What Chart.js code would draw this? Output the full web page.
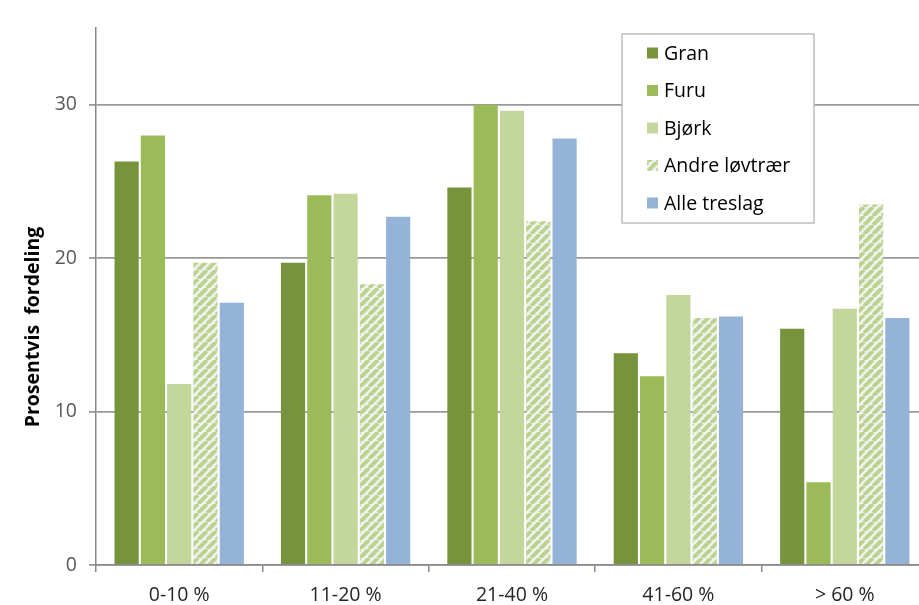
<!DOCTYPE html>
<html>
<head>
<meta charset="utf-8">
<script src="https://cdn.jsdelivr.net/npm/chart.js@4/dist/chart.umd.min.js"></script>
<style>
  html, body { margin: 0; padding: 0; background: #fff; overflow: hidden; }
  #wrap { width: 932px; height: 605px; }
</style>
</head>
<body>
<div id="wrap"><canvas id="c" width="932" height="605"></canvas></div>
<script>
// Share of volume by class, per tree species
const categories = ['0-10 %', '11-20 %', '21-40 %', '41-60 %', '> 60 %'];
const gran   = [26.3, 19.7, 24.6, 13.8, 15.4];
const furu   = [28.0, 24.1, 30.0, 12.3, 5.4];
const bjork  = [11.8, 24.2, 29.6, 17.6, 16.7];
const andre  = [19.7, 18.3, 22.4, 16.1, 23.5];
const alle   = [17.1, 22.7, 27.8, 16.2, 16.1];
const seriesNames = ['Gran', 'Furu', 'Bjørk', 'Andre løvtrær', 'Alle treslag'];
const yTicks = [0, 10, 20, 30];
const yTitle = 'Prosentvis  fordeling';

const FONT = '"Open Sans", "Noto Sans", sans-serif';

// diagonal hatch for "Andre løvtrær"
function hatch() {
  const s = 9;
  const p = document.createElement('canvas');
  p.width = s; p.height = s;
  const g = p.getContext('2d');
  g.fillStyle = '#F2F2F2';
  g.fillRect(0, 0, s, s);
  g.strokeStyle = '#BCD38F';
  g.lineWidth = 4;
  g.beginPath();
  for (let k = -1; k <= 1; k++) {
    g.moveTo(k * s, s);
    g.lineTo(k * s + s, 0);
  }
  g.stroke();
  return document.getElementById('c').getContext('2d').createPattern(p, 'repeat');
}

const hatchFill = hatch();
const colors = ['#77933C', '#9BBB59', '#C3D69B', hatchFill, '#95B3D7'];
const values = [gran, furu, bjork, andre, alle];

const datasets = values.map((v, i) => ({
  label: seriesNames[i],
  data: v,
  backgroundColor: colors[i],
  borderWidth: 0,
  barPercentage: 0.92,
  categoryPercentage: 0.79
}));

// boxed legend inside the plot area, plus the rotated axis title
const boxLegend = {
  id: 'boxLegend',
  afterDraw(chart) {
    const ctx = chart.ctx;
    ctx.save();
    const x0 = 622, y0 = 34, w = 192, h = 189;
    ctx.fillStyle = '#fff';
    ctx.fillRect(x0, y0, w, h);
    ctx.strokeStyle = '#BFBFBF';
    ctx.lineWidth = 1.5;
    ctx.strokeRect(x0, y0, w, h);
    const rows = [53, 90.5, 128, 165.5, 203];
    chart.data.datasets.forEach((ds, i) => {
      ctx.fillStyle = ds.backgroundColor;
      ctx.fillRect(647, rows[i] - 5.5, 11, 11);
      ctx.fillStyle = '#000';
      ctx.font = '19.5px ' + FONT;
      ctx.textBaseline = 'middle';
      ctx.textAlign = 'left';
      ctx.fillText(ds.label, 664, rows[i] + 1);
    });
    ctx.translate(33, 327);
    ctx.rotate(-Math.PI / 2);
    ctx.font = 'bold 19.5px ' + FONT;
    ctx.fillStyle = '#000';
    ctx.textAlign = 'center';
    ctx.textBaseline = 'middle';
    ctx.fillText(yTitle, 0, 0);
    ctx.restore();
  }
};

new Chart(document.getElementById('c'), {
  type: 'bar',
  data: { labels: categories, datasets },
  options: {
    responsive: false,
    animation: false,
    layout: { padding: { top: 28, right: 4, left: 0, bottom: 0 } },
    plugins: { legend: { display: false }, tooltip: { enabled: false } },
    scales: {
      x: {
        offset: true,
        grid: {
          offset: true,
          drawOnChartArea: false,
          drawTicks: true,
          tickLength: 7,
          color: '#888',
          lineWidth: 1.5
        },
        border: { color: '#888', width: 1.5 },
        ticks: { color: '#262626', font: { family: FONT, size: 19.5 }, padding: 12 },
        afterFit(s) { s.height = 40; }
      },
      y: {
        min: 0,
        max: 35,
        grid: { color: '#999', lineWidth: 1.8, tickLength: 7 },
        border: { color: '#888', width: 1.5 },
        afterBuildTicks(s) { s.ticks = yTicks.map(v => ({ value: v })); },
        ticks: { color: '#595959', font: { family: FONT, size: 19.5 }, padding: 12 },
        afterFit(s) { s.width = 96; }
      }
    }
  },
  plugins: [boxLegend]
});
</script>
</body>
</html>
